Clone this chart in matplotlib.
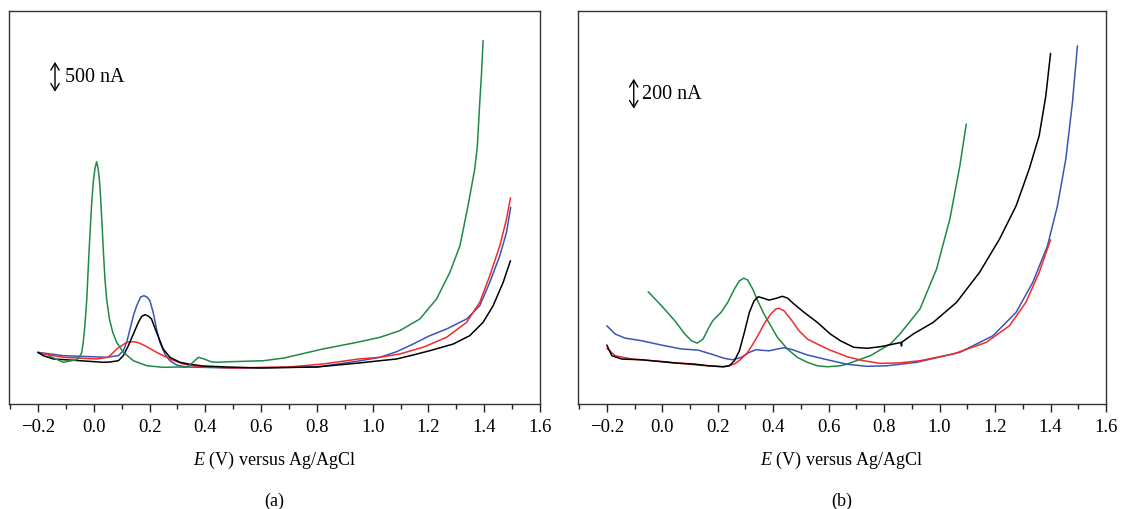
import matplotlib
matplotlib.use("Agg")
import matplotlib.pyplot as plt
from matplotlib.ticker import MultipleLocator

plt.rcParams['font.family'] = ['Liberation Serif', 'DejaVu Serif']
plt.rcParams['mathtext.fontset'] = 'custom'
plt.rcParams['mathtext.rm'] = 'Liberation Serif'
plt.rcParams['mathtext.it'] = 'Liberation Serif:italic'

# ---------------- Panel (a) data: E (V) vs current (nA, arbitrary offset) ----------------
a_green_E = [-0.163, -0.109, -0.061, -0.052, -0.043, -0.038, -0.032, -0.025, -0.020, -0.014, -0.008,
             -0.002, 0.004, 0.010, 0.016, 0.022, 0.028, 0.034, 0.040, 0.046, 0.056, 0.068, 0.082,
             0.106, 0.142, 0.190, 0.249, 0.305, 0.333, 0.356, 0.375, 0.395, 0.420, 0.440, 0.488,
             0.608, 0.682, 0.821, 0.950, 1.026, 1.097, 1.169, 1.229, 1.277, 1.313, 1.342, 1.366,
             1.375, 1.384, 1.390, 1.396]
a_green_I = [238, 120, 166, 209, 298, 477, 773, 1250, 1786, 2381, 2917, 3334, 3572, 3702, 3572, 3274,
             2738, 2143, 1607, 1250, 893, 655, 477, 298, 148, 59, 30, 36, 30, 120, 209, 180, 130,
             120, 130, 148, 196, 357, 482, 566, 684, 893, 1250, 1727, 2202, 2917, 3572, 3960, 4763,
             5250, 5864]

a_blue_E = [-0.2, -0.109, 0.046, 0.088, 0.106, 0.118, 0.130, 0.142, 0.154, 0.168, 0.180, 0.192,
            0.201, 0.213, 0.225, 0.237, 0.255, 0.273, 0.297, 0.33, 0.5, 0.8, 0.95, 1.026, 1.086,
            1.145, 1.205, 1.265, 1.313, 1.337, 1.384, 1.420, 1.456, 1.480, 1.495]
a_blue_I = [298, 238, 209, 238, 327, 477, 714, 952, 1131, 1286, 1309, 1280, 1220, 1013, 714, 477,
            268, 148, 71, 36, 18, 36, 143, 209, 309, 446, 595, 714, 834, 893, 1131, 1548, 2024,
            2441, 2888]

a_red_E = [-0.2, -0.109, 0.010, 0.052, 0.068, 0.082, 0.100, 0.118, 0.142, 0.160, 0.178, 0.200,
           0.225, 0.273, 0.321, 0.37, 0.5, 0.7, 0.821, 0.95, 1.026, 1.097, 1.181, 1.265, 1.337,
           1.384, 1.420, 1.456, 1.480, 1.494]
a_red_I = [286, 209, 179, 209, 286, 357, 416, 477, 488, 470, 429, 370, 298, 179, 89, 45, 18, 36, 89,
           179, 209, 268, 388, 566, 834, 1191, 1666, 2202, 2679, 3054]

a_black_E = [-0.2, -0.181, -0.145, -0.049, 0.034, 0.058, 0.088, 0.106, 0.124, 0.142, 0.160, 0.172,
             0.184, 0.196, 0.207, 0.225, 0.249, 0.273, 0.309, 0.339, 0.391, 0.477, 0.6, 0.8, 0.95,
             1.026, 1.086, 1.145, 1.205, 1.289, 1.348, 1.396, 1.432, 1.468, 1.494]
a_black_I = [298, 238, 179, 148, 120, 125, 148, 238, 416, 625, 834, 940, 970, 945, 893, 655, 357,
             209, 120, 89, 54, 36, 18, 36, 107, 148, 179, 250, 327, 446, 595, 834, 1131, 1548, 1934]

# ---------------- Panel (b) data ----------------
b_green_E = [-0.051, -0.003, 0.045, 0.081, 0.105, 0.126, 0.147, 0.165, 0.182, 0.212, 0.236, 0.260,
             0.278, 0.294, 0.308, 0.326, 0.344, 0.367, 0.391, 0.415, 0.451, 0.487, 0.523, 0.559,
             0.595, 0.642, 0.666, 0.750, 0.822, 0.857, 0.929, 0.989, 1.037, 1.073, 1.096]
b_green_I = [538, 438, 331, 236, 188, 171, 200, 271, 331, 391, 462, 557, 616, 635, 621, 557, 473,
             378, 295, 212, 129, 69, 34, 9, 2, 9, 21, 81, 164, 236, 414, 700, 1057, 1437, 1735]

b_black_E = [-0.2, -0.182, -0.146, -0.075, 0.045, 0.116, 0.165, 0.218, 0.242, 0.260, 0.278, 0.296,
             0.314, 0.331, 0.346, 0.362, 0.385, 0.409, 0.433, 0.451, 0.475, 0.511, 0.559, 0.606,
             0.642, 0.690, 0.738, 0.786, 0.833, 0.862, 0.8625, 0.863, 0.905, 0.977, 1.061, 1.144,
             1.216, 1.276, 1.323, 1.359, 1.383, 1.400]
b_black_I = [157, 81, 57, 52, 29, 21, 9, 2, 9, 45, 116, 248, 391, 473, 502, 493, 478, 490, 505, 493,
             450, 391, 319, 236, 188, 141, 134, 145, 164, 176, 150, 176, 236, 319, 462, 676, 914,
             1152, 1414, 1652, 1937, 2240]

b_red_E = [-0.2, -0.17, -0.11, 0.009, 0.129, 0.224, 0.260, 0.284, 0.308, 0.338, 0.367, 0.391, 0.409,
           0.421, 0.439, 0.463, 0.493, 0.523, 0.559, 0.606, 0.642, 0.666, 0.726, 0.786, 0.857,
           0.929, 1.049, 1.168, 1.252, 1.311, 1.359, 1.400]
b_red_I = [134, 81, 57, 38, 14, 2, 21, 57, 105, 200, 307, 378, 414, 419, 402, 343, 259, 200, 164,
           120, 93, 74, 45, 26, 30, 45, 93, 176, 295, 462, 676, 909]

b_blue_E = [-0.2, -0.17, -0.135, -0.075, -0.003, 0.069, 0.129, 0.176, 0.224, 0.254, 0.284, 0.314,
            0.338, 0.362, 0.385, 0.415, 0.439, 0.469, 0.523, 0.595, 0.666, 0.738, 0.810, 0.918,
            1.073, 1.192, 1.276, 1.336, 1.389, 1.425, 1.455, 1.479, 1.497]
b_blue_I = [295, 236, 207, 188, 157, 129, 121, 93, 62, 52, 69, 105, 124, 119, 116, 129, 138, 124, 86,
            52, 20, 5, 9, 34, 105, 223, 391, 605, 866, 1152, 1485, 1890, 2294]

x_ticks = [-0.2, 0.0, 0.2, 0.4, 0.6, 0.8, 1.0, 1.2, 1.4, 1.6]
x_label = "$E$ (V) versus Ag/AgCl"
panel_labels = ["(a)", "(b)"]
scale_a = 500   # nA
scale_b = 200   # nA

GREEN = '#1f8a46'
BLUE = '#3b55b5'
RED = '#f22a2a'
BLACK = '#000000'

fig = plt.figure(figsize=(11.21, 5.10), dpi=100)
ax_a = fig.add_axes([9 / 1121, 1 - 405 / 510, 531 / 1121, 393 / 510])
ax_b = fig.add_axes([578 / 1121, 1 - 405 / 510, 528 / 1121, 393 / 510])

lw = 1.1
kw = dict(lw=lw, solid_joinstyle='round', solid_capstyle='round')
ax_a.plot(a_blue_E, a_blue_I, color=BLUE, **kw)
ax_a.plot(a_red_E, a_red_I, color=RED, **kw)
ax_a.plot(a_black_E, a_black_I, color=BLACK, **kw)
ax_a.plot(a_green_E, a_green_I, color=GREEN, **kw)
ax_a.set_ylim(-625, 6393)

ax_b.plot(b_green_E, b_green_I, color=GREEN, **kw)
ax_b.plot(b_blue_E, b_blue_I, color=BLUE, **kw)
ax_b.plot(b_red_E, b_red_I, color=RED, **kw)
ax_b.plot(b_black_E, b_black_I, color=BLACK, **kw)
ax_b.set_ylim(-264, 2543)

for ax, lab in zip([ax_a, ax_b], panel_labels):
    ax.set_xlim(-0.304, 1.6)
    ax.set_xticks(x_ticks)
    ax.set_xticklabels([f"{t:.1f}".replace("-", "\u2212") for t in x_ticks])
    ax.xaxis.set_minor_locator(MultipleLocator(0.1))
    ax.set_yticks([])
    ax.tick_params(axis='x', which='major', direction='out', length=6, width=1.0,
                   labelsize=13.5, pad=4, color='#222222')
    ax.tick_params(axis='x', which='minor', direction='out', length=3.5, width=1.0,
                   color='#222222')
    for s in ax.spines.values():
        s.set_linewidth(1.0)
        s.set_color('#333333')
    ax.set_xlabel(x_label, fontsize=13, labelpad=10)
    ax.text(0.5, -0.245, lab, transform=ax.transAxes, ha='center', va='center', fontsize=13)

# scale bars
arrow_kw = dict(arrowstyle='<->,head_length=0.5,head_width=0.3', lw=1.0, color='black',
                shrinkA=0, shrinkB=0)
ax_a.annotate('', xy=(-0.139, 4950), xytext=(-0.139, 4950 + scale_a * 1.07), arrowprops=arrow_kw)
ax_a.text(-0.104, 4950 + scale_a * 0.53, f"{scale_a} nA", ha='left', va='center', fontsize=14.5)
ax_b.annotate('', xy=(-0.103, 1845), xytext=(-0.103, 1845 + scale_b * 1.07), arrowprops=arrow_kw)
ax_b.text(-0.072, 1845 + scale_b * 0.53, f"{scale_b} nA", ha='left', va='center', fontsize=14.5)

fig.savefig("out.png", dpi=100)
